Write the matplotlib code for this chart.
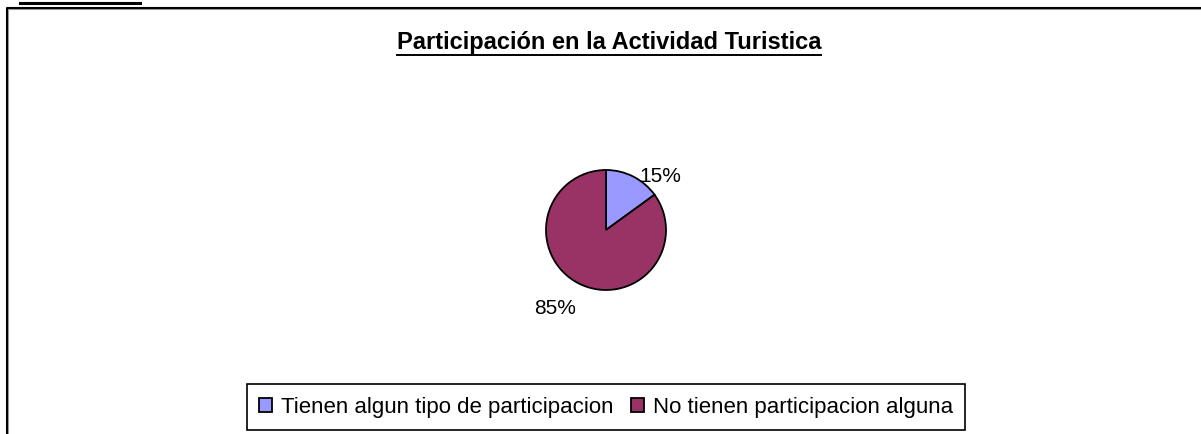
import matplotlib
matplotlib.use("Agg")
import matplotlib.pyplot as plt
from matplotlib.lines import Line2D
import numpy as np

title = "Participación en la Actividad Turistica"
categories = ["Tienen algun tipo de participacion", "No tienen participacion alguna"]
values = [15, 85]
colors = ["#9999FF", "#993366"]

plt.rcParams['font.family'] = ['Liberation Sans', 'DejaVu Sans']

W, H = 1201, 434
fig = plt.figure(figsize=(W / 100, H / 100), dpi=100)

def fx(px):
    return px / W

def fy(py):
    return 1 - py / H

# top black bar and chart border
fig.add_artist(Line2D([fx(20), fx(140)], [fy(2.5), fy(2.5)], color="black", lw=2.2))
fig.add_artist(Line2D([fx(8), fx(8), fx(1201)], [fy(434), fy(9), fy(9)], color="#a0a0a0", lw=1.5))
fig.add_artist(Line2D([fx(7), fx(7), fx(1201)], [fy(434), fy(8), fy(8)], color="black", lw=1.5))

# title
t = fig.text(fx(609), fy(42), title, ha="center", va="center", fontsize=17, fontweight="bold")

# pie
cx, cy, R = 606, 230, 60
ax = fig.add_axes([fx(cx - 100), fy(cy + 100), 200 / W, 200 / H])
wedges, texts, autotexts = ax.pie(values, colors=colors, startangle=90, counterclock=False,
                                  radius=R, autopct="%1.0f%%", pctdistance=1.3,
                                  wedgeprops=dict(edgecolor="black", linewidth=1.3),
                                  textprops=dict(fontsize=15))
ax.set_xlim(-100, 100)
ax.set_ylim(-100, 100)
ax.set_aspect("equal")
ax.axis("off")
autotexts[0].set_position((54, 54))
autotexts[1].set_position((-51, -79))

# legend
leg = fig.legend(wedges, categories, loc="center", bbox_to_anchor=(fx(606), fy(407)),
                 ncol=2, frameon=True, fancybox=False, fontsize=16, framealpha=1,
                 handlelength=0.6, handleheight=0.6, handletextpad=0.4, columnspacing=0.75,
                 borderpad=0.55, edgecolor="black")
leg.get_frame().set_linewidth(1.2)

fig.canvas.draw()
bb = t.get_window_extent()
fig.add_artist(Line2D([bb.x0 / W, bb.x1 / W], [(bb.y0 - 1) / H, (bb.y0 - 1) / H], color="black", lw=1.4))

fig.savefig("out.png", dpi=100)
